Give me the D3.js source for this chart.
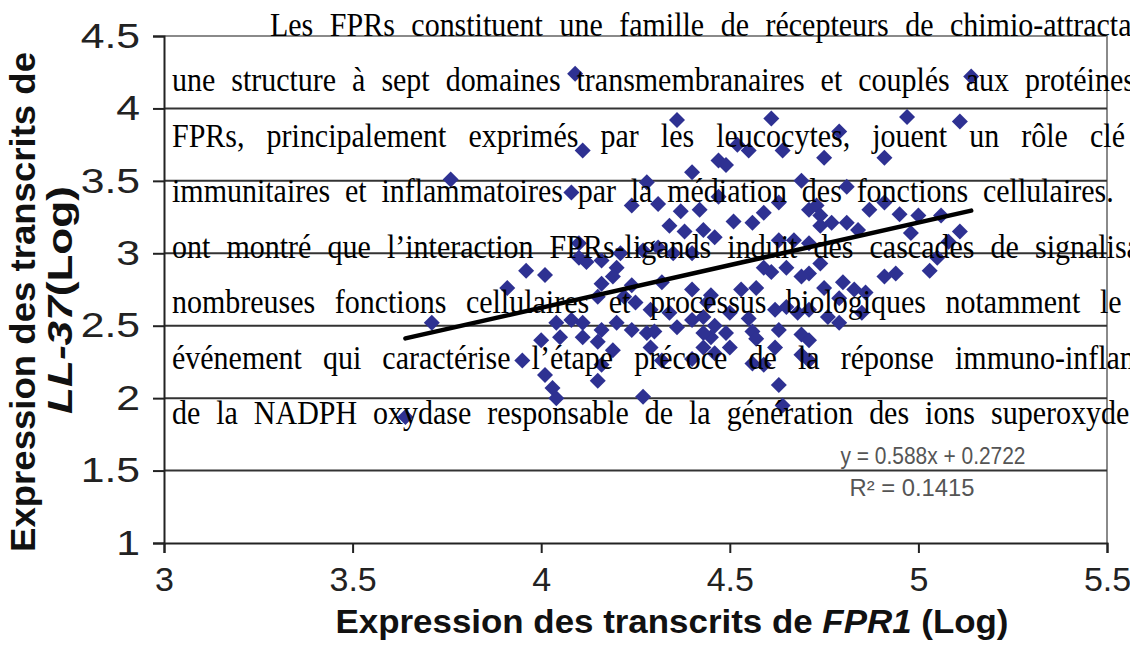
<!DOCTYPE html>
<html>
<head>
<meta charset="utf-8">
<script src="https://cdn.jsdelivr.net/npm/d3@7/dist/d3.min.js"></script>
<style>
  html, body { margin: 0; padding: 0; background: #fff; }
  svg { display: block; }
</style>
</head>
<body>
<svg id="chart" width="1130" height="652"></svg>
<script>
// FPR1 expression (log) per sample
const fpr1 = [
  4.09, 5.14, 4.36, 4.61, 4.97, 5.11, 4.11, 4.79, 4.55, 4.52, 4.64, 4.75, 4.91, 4.49, 4.40, 4.47,
  3.76, 4.28, 4.08, 4.69, 4.81,
  4.24, 4.31, 4.37, 4.42, 4.34, 4.38, 4.43, 4.51, 4.63, 4.47, 4.46, 4.56, 4.59, 4.71, 4.73, 4.74,
  4.74, 4.77, 4.81, 4.84, 4.87, 4.91, 4.95, 5.00, 5.06, 4.98, 5.11, 5.08, 4.63, 4.67, 4.71,
  4.21, 4.27, 4.31, 4.35, 4.40, 4.10, 4.12, 4.16, 4.20, 4.10,
  5.05, 5.03, 4.94, 4.91, 4.80, 4.86, 4.59, 4.61, 4.65, 4.71, 4.74, 4.69, 3.96, 4.01, 3.91,
  4.24, 4.32, 4.40, 4.45, 4.53, 4.57, 4.75, 4.79, 4.83, 4.16, 4.19, 4.15, 4.22, 4.44,
  4.25, 4.29, 4.34, 4.40, 4.43, 4.50, 4.55, 4.62, 4.65, 4.68, 4.71, 4.76, 4.79, 4.85, 3.71,
  4.04, 4.08, 4.11, 4.05, 4.11, 4.15, 4.16, 4.20, 4.28, 4.45, 4.00, 4.24, 4.30, 4.36, 4.43,
  4.49, 4.56, 4.57, 4.63, 4.69, 4.71, 4.46,
  4.19, 4.29, 4.43, 4.50, 4.62, 4.69, 4.46, 4.32, 4.40, 4.56, 4.59, 4.71, 3.95, 4.01, 4.16,
  4.15, 4.03, 4.04, 4.27, 4.63, 4.64, 3.64
];
// LL-37 expression (log) for the same samples
const ll37 = [
  4.24, 4.22, 3.92, 3.93, 3.94, 3.91, 3.71, 3.84, 3.71, 3.75, 3.71, 3.66, 3.66, 3.61, 3.56, 3.64,
  3.51, 3.49, 3.42, 3.50, 3.46,
  3.33, 3.34, 3.29, 3.30, 3.19, 3.15, 3.16, 3.22, 3.35, 3.39, 3.11, 3.21, 3.28, 3.30, 3.33, 3.26,
  3.19, 3.21, 3.21, 3.16, 3.30, 3.35, 3.27, 3.26, 3.26, 3.14, 3.15, 3.08, 3.09, 3.09, 3.07,
  3.00, 3.02, 3.04, 3.00, 3.00, 2.97, 2.94, 2.95, 2.90, 3.07,
  2.97, 2.88, 2.86, 2.84, 2.80, 2.73, 2.90, 2.87, 2.90, 2.86, 2.93, 2.84, 2.88, 2.85, 2.76,
  2.78, 2.80, 2.75, 2.71, 2.75, 2.76, 2.76, 2.69, 2.75, 2.79, 2.84, 2.70, 2.70, 2.66,
  2.66, 2.61, 2.59, 2.54, 2.56, 2.59, 2.55, 2.61, 2.63, 2.59, 2.61, 2.56, 2.52, 2.59, 2.52,
  2.52, 2.54, 2.52, 2.42, 2.42, 2.39, 2.47, 2.52, 2.45, 2.42, 2.40, 2.47, 2.46, 2.49, 2.45,
  2.45, 2.46, 2.41, 2.47, 2.44, 2.40, 2.50,
  2.33, 2.35, 2.35, 2.35, 2.35, 2.30, 2.31, 2.26, 2.27, 2.24, 2.23, 2.26, 2.26, 2.16, 2.23,
  2.12, 2.07, 2.00, 2.01, 2.09, 1.95, 1.87
];

// Linear fit shown on the chart
const fitSlope = 0.588;
const fitIntercept = 0.2722;
const fitR2 = 0.1415;

const xTicks = [3, 3.5, 4, 4.5, 5, 5.5];
const xTickLabels = ["3", "3.5", "4", "4.5", "5", "5.5"];
const yTicks = [1, 1.5, 2, 2.5, 3, 3.5, 4, 4.5];
const yTickLabels = ["1", "1.5", "2", "2.5", "3", "3.5", "4", "4.5"];

// Body text of the page running across the figure
const bodyLines = [
  "Les FPRs constituent une famille de récepteurs de chimio-attractants",
  "une structure à sept domaines transmembranaires et couplés aux protéines",
  "FPRs, principalement exprimés par les leucocytes, jouent un rôle clé",
  "immunitaires et inflammatoires par la médiation des fonctions cellulaires.",
  "ont montré que l’interaction FPRs-ligands induit des cascades de signalisation",
  "nombreuses fonctions cellulaires et processus biologiques notamment le",
  "événement qui caractérise l’étape précoce de la réponse immuno-inflammatoire",
  "de la NADPH oxydase responsable de la génération des ions superoxyde"
];

const W = 1130, H = 652;
const plot = { left: 164, right: 1107, top: 36, bottom: 543 };
const svg = d3.select("#chart");

const x = d3.scaleLinear().domain([3, 5.5]).range([plot.left, plot.right]);
const y = d3.scaleLinear().domain([1, 4.5]).range([plot.bottom, plot.top]);

const sans = "'Liberation Sans', Arial, sans-serif";
const serif = "'Liberation Serif', 'Times New Roman', serif";

// plot frame (top and right edges in grey)
svg.append("line")
  .attr("x1", plot.left).attr("x2", plot.right)
  .attr("y1", y(4.5)).attr("y2", y(4.5))
  .attr("stroke", "#8a8a8a").attr("stroke-width", 2);
svg.append("line")
  .attr("x1", plot.right).attr("x2", plot.right)
  .attr("y1", y(4.5)).attr("y2", y(1))
  .attr("stroke", "#8a8a8a").attr("stroke-width", 2);

// horizontal gridlines
svg.append("g")
  .selectAll("line")
  .data(yTicks.filter(v => v > 1 && v < 4.5))
  .join("line")
  .attr("x1", plot.left).attr("x2", plot.right)
  .attr("y1", d => y(d)).attr("y2", d => y(d))
  .attr("stroke", "#333").attr("stroke-width", 2);

// axes
const xAxis = d3.axisBottom(x)
  .tickValues(xTicks)
  .tickFormat((d, i) => xTickLabels[i])
  .tickSize(10).tickPadding(14);
const gx = svg.append("g")
  .attr("transform", `translate(0,${plot.bottom})`)
  .call(xAxis);
gx.select(".domain").attr("stroke", "#222").attr("stroke-width", 2);
gx.selectAll(".tick line").attr("stroke", "#222").attr("stroke-width", 2);
gx.selectAll(".tick text")
  .attr("font-family", sans).attr("font-size", 34).attr("fill", "#222")
  .attr("dy", "0.71em");

const yLabelStretch = 1.22;
const yAxis = d3.axisLeft(y)
  .tickValues(yTicks)
  .tickFormat((d, i) => yTickLabels[i])
  .tickSize(11).tickPadding(13);
const gy = svg.append("g")
  .attr("transform", `translate(${plot.left},0)`)
  .call(yAxis);
gy.select(".domain").attr("stroke", "#222").attr("stroke-width", 2);
gy.selectAll(".tick line").attr("stroke", "#222").attr("stroke-width", 2);
gy.selectAll(".tick text")
  .attr("font-family", sans).attr("font-size", 35).attr("fill", "#222")
  .attr("x", -24 / yLabelStretch)
  .attr("transform", `scale(${yLabelStretch},1)`);

// points
const pts = fpr1.map((v, i) => ({ x: v, y: ll37[i] }));
const r = 8;
svg.append("g")
  .selectAll("path")
  .data(pts)
  .join("path")
  .attr("d", `M0,${-r}L${r},0L0,${r}L${-r},0Z`)
  .attr("transform", d => `translate(${x(d.x)},${y(d.y)})`)
  .attr("fill", "#2e3192");

// trend line across the range of FPR1 values
const [xMin, xMax] = d3.extent(fpr1);
svg.append("line")
  .attr("x1", x(xMin)).attr("y1", y(fitSlope * xMin + fitIntercept))
  .attr("x2", x(xMax)).attr("y2", y(fitSlope * xMax + fitIntercept))
  .attr("stroke", "#000").attr("stroke-width", 4.5).attr("stroke-linecap", "round");

// fit annotation
const ann = svg.append("g").attr("font-family", sans).attr("font-size", 23).attr("fill", "#555");
ann.append("text").attr("x", 933).attr("y", 464).attr("text-anchor", "middle")
  .attr("textLength", 185).attr("lengthAdjust", "spacingAndGlyphs")
  .text(`y = ${fitSlope}x + ${fitIntercept}`);
ann.append("text").attr("x", 912).attr("y", 496).attr("text-anchor", "middle")
  .attr("textLength", 125).attr("lengthAdjust", "spacingAndGlyphs")
  .text(`R² = ${fitR2}`);

// axis titles
const xt = svg.append("text")
  .attr("x", 672).attr("y", 633).attr("text-anchor", "middle")
  .attr("textLength", 673).attr("lengthAdjust", "spacingAndGlyphs")
  .attr("font-family", sans).attr("font-weight", "bold").attr("font-size", 34).attr("fill", "#111");
xt.append("tspan").text("Expression des transcrits de ");
xt.append("tspan").attr("font-style", "italic").text("FPR1");
xt.append("tspan").text(" (Log)");

const yt = svg.append("g").attr("transform", "translate(35,302) rotate(-90)")
  .attr("font-family", sans).attr("font-weight", "bold").attr("font-size", 35).attr("fill", "#111")
  .attr("text-anchor", "middle");
yt.append("text").attr("x", 0).attr("y", 0)
  .attr("textLength", 500).attr("lengthAdjust", "spacingAndGlyphs")
  .text("Expression des transcrits de");
const yt2 = yt.append("text").attr("x", 2).attr("y", 37)
  .attr("textLength", 228).attr("lengthAdjust", "spacingAndGlyphs");
yt2.append("tspan").attr("font-style", "italic").text("LL-37");
yt2.append("tspan").text("(Log)");

// justified body text
const lineLeft = [270, 172, 172, 172, 172, 172, 172, 172];
const lastWordStart = [950, 1025, 1090, 983, 1035, 1100, 955, 991];
const lineBase = [35.5, 91, 146.5, 202, 257.5, 313, 368.5, 424];
const body = svg.append("g").attr("font-family", serif).attr("font-size", 30).attr("fill", "#000");
bodyLines.forEach((line, li) => {
  const row = body.append("g").attr("transform", `translate(0,${lineBase[li]}) scale(1,1.1)`);
  const words = line.split(" ");
  const nodes = words.map(w => row.append("text").attr("y", 0).text(w));
  const widths = nodes.map(n => n.node().getComputedTextLength());
  const inner = d3.sum(widths.slice(0, -1));
  const gap = (lastWordStart[li] - lineLeft[li] - inner) / (words.length - 1);
  let cx = lineLeft[li];
  nodes.forEach((n, i) => { n.attr("x", cx); cx += widths[i] + gap; });
});
</script>
</body>
</html>
